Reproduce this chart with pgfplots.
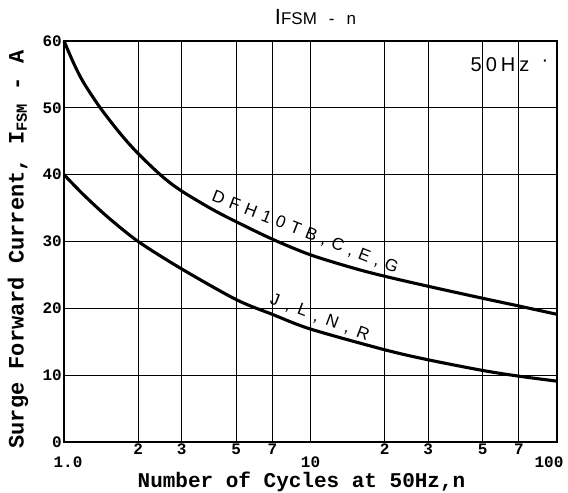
\documentclass[border=0pt]{standalone}
\usepackage{fontspec}
\setmainfont{Liberation Sans}
\newfontfamily\mono{Liberation Mono}
\usepackage{pgfplots}
\pgfplotsset{compat=1.18}
\begin{document}
\begin{tikzpicture}
\begin{axis}[
  xmode=log,
  scale only axis, width=493pt, height=401pt,
  xmin=1, xmax=100, ymin=0, ymax=60,
  xtick={1,10,100}, xticklabels={{\hspace*{8pt}1.0},10,{\hspace*{-16pt}100}},
  extra x ticks={2,3,5,7,20,30,50,70},
  extra x tick labels={2,3,5,7,2,3,5,7},
  extra x tick style={grid=major, xticklabel style={yshift=13pt}},
  ytick={0,10,20,30,40,50,60},
  yticklabels={0,10,20,30,40,50,60},
  xminorticks=false,
  grid=major,
  major grid style={black, line width=1.1pt},
  major tick length=0pt,
  axis line style={line width=1.8pt},
  tick label style={font=\mono\bfseries\fontsize{16}{16}\selectfont, black},
  xticklabel style={yshift=-13pt, inner sep=2pt},
  yticklabel style={inner sep=2pt},
  clip=false,
]
\coordinate (sw) at (rel axis cs:0,0);
\coordinate (ne) at (rel axis cs:1,1);

\addplot[black, line width=3.1pt, smooth] coordinates {
 (1,60) (1.1,56.5) (1.2,53.8) (1.4,50.05) (1.7,46.05) (2,43.15) (2.5,39.75) (3,37.55)
 (4,34.8) (5,32.95) (7,30.35) (10,28.0) (15,26.0) (20,24.8) (30,23.3)
 (50,21.5) (70,20.35) (100,19.1)};
\addplot[black, line width=3.1pt, smooth] coordinates {
 (1,40) (1.2,37.0) (1.5,33.7) (2,30.0) (3,25.9) (5,21.3) (7,19.1)
 (10,16.9) (20,13.8) (30,12.3) (50,10.7) (70,9.85) (100,9.1)};

\node[rotate=-21.4, font=\fontsize{17}{17}\selectfont] at (axis cs:9.5,31.36)
  {D\kern6pt F\kern6pt H\kern6pt 1\kern6pt 0\kern6pt T\kern6pt B\kern6pt ,\kern6pt C\kern6pt ,\kern6pt E\kern6pt ,\kern6pt G};
\node[rotate=-20.8, font=\fontsize{17}{17}\selectfont] at (axis cs:10.9,18.6)
  {J\kern8pt ,\kern8pt L\kern8pt ,\kern8pt N\kern8pt ,\kern8pt R};

\node[anchor=base, font=\fontsize{20}{20}\selectfont] at ([shift={(-57pt,-31pt)}]rel axis cs:1,1)
  {5\kern4pt 0\kern4pt H\kern4pt z};
\node[font=\fontsize{20}{20}\selectfont, inner sep=0pt] at ([shift={(-12pt,-22pt)}]rel axis cs:1,1) {·};

\node[anchor=base] at ([shift={(5pt,16pt)}]rel axis cs:0.5,1)
  {{\fontsize{22}{22}\selectfont I}{\fontsize{17}{17}\selectfont FSM\hspace{12pt}-\hspace{12pt}n}};

\node[anchor=base, font=\mono\bfseries\fontsize{21}{21}\selectfont] at ([shift={(-9pt,-46pt)}]rel axis cs:0.5,0)
  {Number of Cycles at 50Hz,n};
\node[rotate=90, font=\mono\bfseries\fontsize{22}{22}\selectfont] at ([shift={(-46pt,-8pt)}]rel axis cs:0,0.5)
  {Surge Forward Current, I\textsubscript{FSM} - A};
\end{axis}
\pgfresetboundingbox
\path ([shift={(-64pt,-51pt)}]sw) rectangle ([shift={(11pt,41pt)}]ne);
\end{tikzpicture}
\end{document}
